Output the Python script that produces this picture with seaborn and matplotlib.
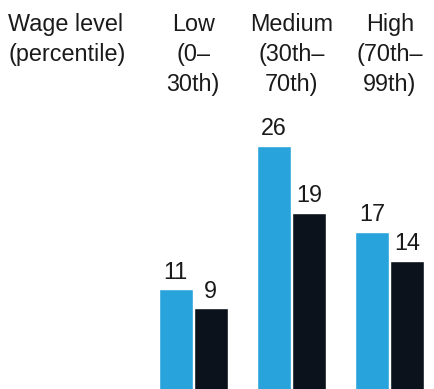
import pandas as pd
import matplotlib.pyplot as plt
import seaborn as sns

# %%
# data
levels = ['Low', 'Medium', 'High']
ranges = [['(0–', '30th)'], ['(30th–', '70th)'], ['(70th–', '99th)']]
series = ['Series A', 'Series B']
vals_a = [11, 26, 17]
vals_b = [9, 19, 14]

df = pd.DataFrame({
    'level': levels * 2,
    'series': [series[0]] * 3 + [series[1]] * 3,
    'value': vals_a + vals_b,
})

# %%
sns.set_style('white')
plt.rcParams['font.family'] = ['Liberation Sans', 'DejaVu Sans']
txt_col = '#1a1a1a'
fs = 16.8

fig = plt.figure(figsize=(4.35, 3.89), dpi=100)
ax = fig.add_axes([0, 0, 1, 1])
sns.barplot(data=df, x='level', y='value', hue='series', order=levels,
            hue_order=series, palette=['#29A3DC', '#0B121B'],
            width=0.714, gap=0.03, legend=False, ax=ax, saturation=1)

for c in ax.containers:
    ax.bar_label(c, fmt='%d', padding=4, fontsize=fs, color=txt_col)

ax.set_xlim(-1.966, 2.459)
ax.set_ylim(0.545, 41.3)
ax.axis('off')

# %%
# column headers, one line at a time (baselines at 31, 61, 91 px)
base = [1 - 31 / 389, 1 - 61 / 389, 1 - 91 / 389]
for line, y in zip(['Wage level', '(percentile)'], base):
    fig.text(8 / 435, y, line, ha='left', va='baseline',
             fontsize=fs, color=txt_col)
for i, lv in enumerate(levels):
    lines = [lv] + ranges[i]
    for line, y in zip(lines, base):
        ax.text(i, y, line, transform=ax.get_xaxis_transform(),
                ha='center', va='baseline', fontsize=fs, color=txt_col)

fig.savefig('out.png', dpi=100)
